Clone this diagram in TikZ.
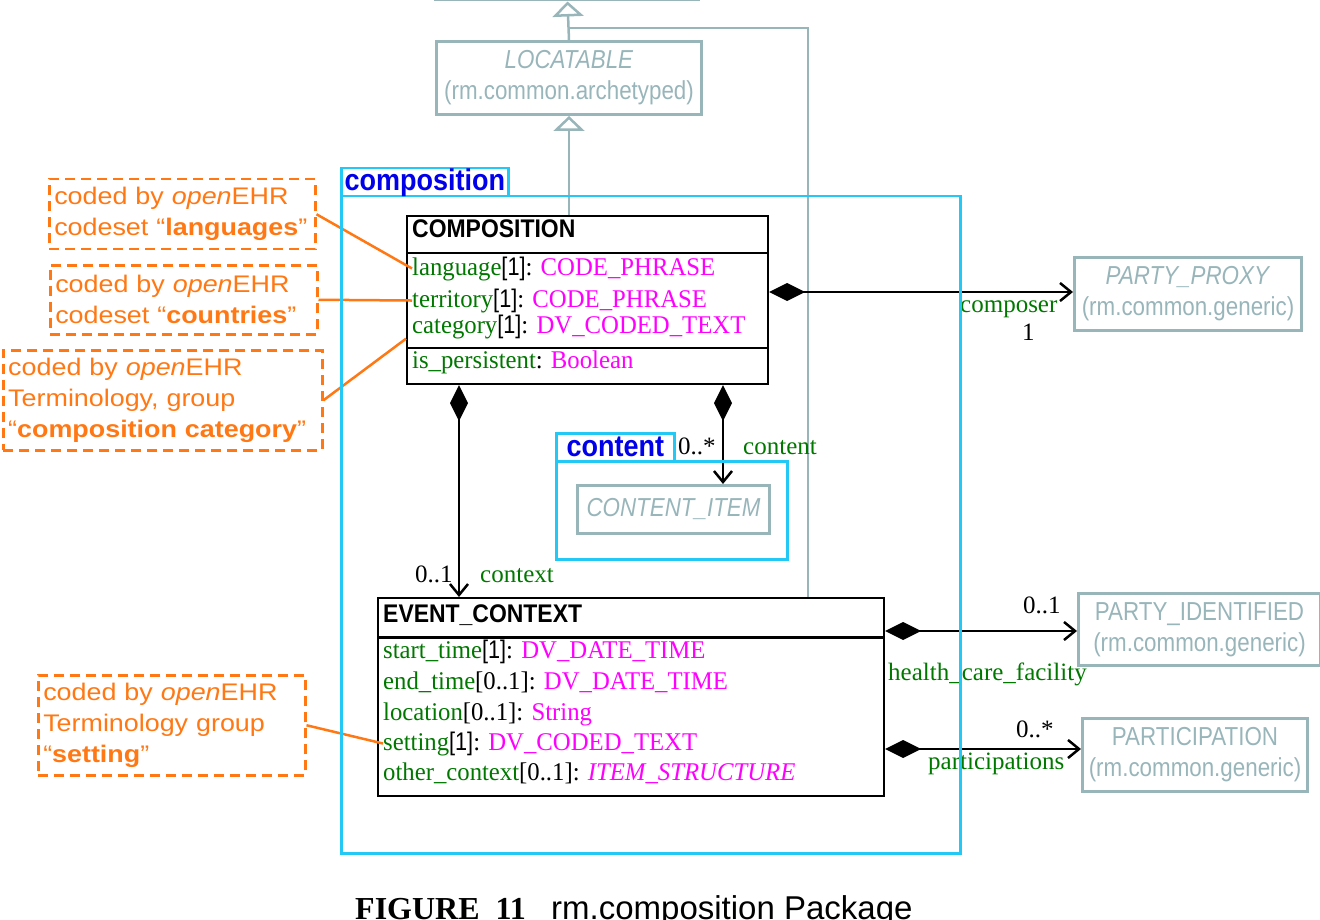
\documentclass[tikz,border=0pt]{standalone}
\usepackage{fontspec}
\setmainfont{Liberation Serif}
\newfontfamily\attrf{Liberation Serif}[FakeStretch=0.97]
\newfontfamily\brf{Liberation Sans}[FakeStretch=0.85]
\newfontfamily\hdrf{Liberation Sans}[FakeStretch=0.9]
\newfontfamily\grayf{Liberation Sans}[FakeStretch=0.86]
\newfontfamily\notef{Liberation Sans}[FakeStretch=1.12]
\newfontfamily\pkgf{Liberation Sans}[FakeStretch=0.9]
\newfontfamily\capsans{Liberation Sans}
\usetikzlibrary{arrows.meta}
\definecolor{grayc}{RGB}{152,181,186}
\definecolor{cyanc}{RGB}{35,200,245}
\definecolor{bluec}{RGB}{0,0,235}
\definecolor{orangec}{RGB}{255,120,20}
\definecolor{attrg}{RGB}{0,120,0}
\definecolor{mag}{RGB}{255,0,255}
\newcommand\gr[1]{\textcolor{attrg}{#1}}
\newcommand\mg[1]{\textcolor{mag}{#1}}
\newcommand\one{{\brf[1]}}
\begin{document}
\begin{tikzpicture}[x=1pt,y=-1pt,
  gbox/.style={draw=grayc,line width=3pt,inner sep=0pt,align=center,text=grayc,
    anchor=north west,font=\grayf\fontsize{26}{31}\selectfont},
  pkgframe/.style={draw=cyanc,line width=2.5pt,inner sep=0pt,anchor=north west},
  pkgtab/.style={pkgframe,text=bluec,font=\pkgf\bfseries\fontsize{30}{30}\selectfont},
  cls/.style={draw=black,line width=2.2pt,inner sep=0pt,anchor=north west,fill=white},
  hdr/.style={inner sep=0pt,anchor=base west,font=\hdrf\bfseries\fontsize{25.5}{25}\selectfont},
  attr/.style={inner sep=0pt,anchor=base west,font=\attrf\fontsize{25.5}{30}\selectfont},
  lbl/.style={inner sep=0pt,anchor=base west,font=\fontsize{25}{25}\selectfont},
  assoc/.style={line width=2.5pt,{Diamond[length=36pt,width=18pt]}-{Straight Barb[length=11pt,width=18pt,line width=2.5pt]}},
  inh/.style={draw=grayc,line width=2.5pt,-{Triangle[open,length=15pt,width=31pt,fill=white,line width=2.5pt]}},
  gline/.style={draw=grayc,line width=2.5pt},
  note/.style={draw=orangec,line width=2.5pt,dash pattern=on 10pt off 6pt,text=orangec,
    font=\notef\fontsize{24}{31}\selectfont,align=left,inner xsep=5pt,inner ysep=0pt,anchor=north west},
  notel/.style={draw=orangec,line width=2.5pt}
]
\useasboundingbox (0,0) rectangle (1320,920);

% box above (cut off)
\draw[gline,line width=3pt] (434,0) -- (700,0);

% gray boxes
\node[gbox,minimum width=265pt,minimum height=73pt] (loc) at (435,40) {\textit{LOCATABLE}\\(rm.common.archetyped)};
\node[gbox,minimum width=227pt,minimum height=73pt] (pproxy) at (1073,256) {\textit{PARTY\_PROXY}\\(rm.common.generic)};
\node[gbox,minimum width=242pt,minimum height=72pt] (pid) at (1077,592) {PARTY\_IDENTIFIED\\(rm.common.generic)};
\node[gbox,minimum width=225pt,minimum height=73pt] (part) at (1081,717) {PARTICIPATION\\(rm.common.generic)};
\node[gbox,minimum width=192pt,minimum height=48pt] (citem) at (576,484) {\textit{CONTENT\_ITEM}};

% inheritance
\coordinate (topc) at (567.5,1.5);
\coordinate (j) at (567.5,28);
\draw[gline] (j) -| (808,0 |- 0,597);

% COMPOSITION class
\node[cls,minimum width=361pt,minimum height=168pt] (comp) at (406,215) {};
\draw[line width=2pt] (comp.west |- 0,253) -- (comp.east |- 0,253);
\draw[line width=2.2pt] (comp.west |- 0,348) -- (comp.east |- 0,348);
\node[hdr] (comph) at (412,238) {COMPOSITION};
\node[attr] (lang) at (412,275) {\gr{language}\one: \mg{CODE\_PHRASE}};
\node[attr] (terr) at (412,307) {\gr{territory}\one: \mg{CODE\_PHRASE}};
\node[attr] (cat) at (412,333) {\gr{category}\one: \mg{DV\_CODED\_TEXT}};
\node[attr] (pers) at (412,368) {\gr{is\_persistent}: \mg{Boolean}};

% EVENT_CONTEXT class
\node[cls,minimum width=506pt,minimum height=198pt] (evc) at (377,597) {};
\draw[line width=3pt] (evc.west |- 0,637) -- (evc.east |- 0,637);
\node[hdr] (evch) at (383,622) {EVENT\_CONTEXT};
\node[attr] (st) at (383,658) {\gr{start\_time}\one: \mg{DV\_DATE\_TIME}};
\node[attr] (et) at (383,689) {\gr{end\_time}[0..1]: \mg{DV\_DATE\_TIME}};
\node[attr] (locn) at (383,720) {\gr{location}[0..1]: \mg{String}};
\node[attr] (set) at (383,750) {\gr{setting}\one: \mg{DV\_CODED\_TEXT}};
\node[attr] (oc) at (383,780) {\gr{other\_context}[0..1]: \mg{\itshape ITEM\_STRUCTURE}};

% inheritance arrows
\draw[inh] (loc.north) -- (topc);
\draw[inh] (loc.south |- comp.north) -- (loc.south);

% associations
\draw[assoc] (comp.east |- 0,292) -- (pproxy.west |- 0,292);
\draw[assoc] (comp.south -| 459,0) -- (evc.north -| 459,0);
\draw[assoc] (comp.south -| 723,0) -- (citem.north -| 723,0);
\draw[assoc] (evc.east |- 0,631) -- (pid.west |- 0,631);
\draw[assoc] (evc.east |- 0,749) -- (part.west |- 0,749);

% association labels
\node[lbl,text=attrg] (lcomposer) at (960,312) {composer};
\node[lbl] (mcomposer) at (1022,340) {1};
\node[lbl] (mcontext) at (415,582) {0..1};
\node[lbl,text=attrg] (lcontext) at (480,582) {context};
\node[lbl] (mcontent) at (678,454) {0..*};
\node[lbl,text=attrg] (lcontent) at (743,454) {content};
\node[lbl] (mhcf) at (1023,613) {0..1};
\node[lbl,text=attrg] (lhcf) at (888,680) {health\_care\_facility};
\node[lbl] (mpart) at (1016,737) {0..*};
\node[lbl,text=attrg] (lpart) at (928,769) {participations};

% notes
\node[note,text width=256pt,minimum height=70pt] (n1) at (48,178) {coded~by~\textit{open}EHR\\codeset~“\textbf{languages}”};
\node[note,text width=257pt,minimum height=69pt] (n2) at (49,264) {coded~by~\textit{open}EHR\\codeset~“\textbf{countries}”};
\node[note,text width=309pt,minimum height=100pt] (n3) at (2,349) {coded~by~\textit{open}EHR\\Terminology,~group\\“\textbf{composition~category}”};
\node[note,text width=257pt,minimum height=100pt] (n4) at (37,674) {coded~by~\textit{open}EHR\\Terminology~group\\“\textbf{setting}”};
\draw[notel] (n1.east) -- (lang.west);
\draw[notel] (n2.east) -- (terr.west);
\draw[notel] (n3.east) -- (comp.west |- cat.south);
\draw[notel] (n4.east) -- (set.west);

% packages
\node[pkgframe,minimum width=619pt,minimum height=657pt] (cpkg) at (340,195) {};
\node[pkgtab,minimum width=167pt,minimum height=28pt] (ctab) at (340,167) {composition};
\node[pkgframe,minimum width=231pt,minimum height=98pt] (kpkg) at (555,460) {};
\node[pkgtab,minimum width=118pt,minimum height=28pt] (ktab) at (555,432) {content};

% caption
\node[inner sep=0pt,anchor=base west,font=\bfseries\fontsize{32}{32}\selectfont] (capa) at (355,919) {FIGURE\ \ 11};
\node[inner sep=0pt,anchor=base west,font=\capsans\fontsize{33}{33}\selectfont] (capb) at (551,919) {rm.composition Package};
\end{tikzpicture}
\end{document}
